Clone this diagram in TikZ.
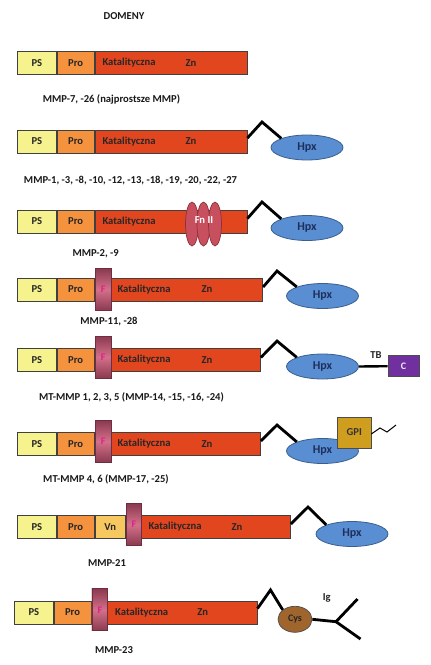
\documentclass[tikz,border=0pt]{standalone}
\usepackage{fontspec}
\setmainfont{Carlito}
\usetikzlibrary{shapes.geometric,calc}
\definecolor{cps}{HTML}{F6F28E}
\definecolor{cpro}{HTML}{F5923E}
\definecolor{ccat}{HTML}{E2461F}
\definecolor{chpx}{HTML}{5A8ED3}
\definecolor{chpxd}{HTML}{3A5F8E}
\definecolor{chpxt}{HTML}{1E2F5C}
\definecolor{cfn}{HTML}{C8505E}
\definecolor{cfnd}{HTML}{8E3140}
\definecolor{cfa}{HTML}{8A3A50}
\definecolor{cfb}{HTML}{D47089}
\definecolor{cft}{HTML}{E0208A}
\definecolor{cc}{HTML}{7030A0}
\definecolor{cgpi}{HTML}{CF9E1E}
\definecolor{ccys}{HTML}{A0652D}
\definecolor{cvn}{HTML}{F8C860}
\tikzset{
  txt/.style={font=\fontsize{10.6}{12}\selectfont\bfseries, text=black!85, inner sep=0pt},
  lbl/.style={font=\fontsize{10.6}{12}\selectfont\bfseries, text=black!90, inner sep=0pt},
  dom/.style={draw=black!75, line width=0.8pt, rectangle, inner sep=0pt, anchor=west, minimum height=23pt},
  fbox/.style={draw=cfa!80!black, line width=0.7pt, rectangle, inner sep=0pt, minimum width=15.7pt, minimum height=42pt, top color=cfa, bottom color=cfa, middle color=cfb, font=\fontsize{10}{11}\selectfont\bfseries, text=cft},
  hpx/.style={ellipse, draw=chpxd, line width=0.8pt, fill=chpx, inner sep=0pt, minimum width=72pt, minimum height=25pt, font=\fontsize{12}{13}\selectfont\bfseries, text=chpxt},
  fn/.style={ellipse, draw=cfnd, line width=0.7pt, fill=cfn, inner sep=0pt, minimum width=13pt, minimum height=44pt},
  link/.style={line width=2.8pt, black, line join=miter},
}
\begin{document}
\begin{tikzpicture}[x=1pt,y=-1pt]
\useasboundingbox[fill=white] (0,0) rectangle (431,665);
\node[lbl] (title) at (124,15.7) {DOMENY};
% Row 1
\node[dom, fill=cps, minimum width=38.4pt] (ps1) at (17.3,62.8) {};
\node[dom, fill=cpro, minimum width=37.6pt] (pro1) at (ps1.east) {};
\node[dom, fill=ccat, minimum width=151.7pt] (c1) at (pro1.east) {};
\node[txt] at (ps1.center) {PS};
\node[txt] at (pro1.center) {Pro};
\node[txt] at (129,62.8) {Katalityczna};
\node[txt] at (191,62.8) {Zn};
\node[lbl] (l1) at (111.5,99) {MMP-7, -26 (najprostsze MMP)};
% Row 2
\node[dom, fill=cps, minimum width=38.4pt] (ps2) at (17.3,141.5) {};
\node[dom, fill=cpro, minimum width=37.6pt] (pro2) at (ps2.east) {};
\node[dom, fill=ccat, minimum width=151.7pt] (c2) at (pro2.east) {};
\node[txt] at (ps2.center) {PS};
\node[txt] at (pro2.center) {Pro};
\node[txt] at (129,141.5) {Katalityczna};
\node[txt] at (191,141.5) {Zn};
\node[hpx] (h2) at (307,147.5) {Hpx};
\coordinate (p2) at (262,122);
\draw[link] ([yshift=3.5pt]c2.east) -- (p2) -- (h2.north west);
\node[lbl] (l2) at (130.5,181) {MMP-1, -3, -8, -10, -12, -13, -18, -19, -20, -22, -27};
% Row 3
\node[dom, fill=cps, minimum width=38.4pt] (ps3) at (17.3,221.5) {};
\node[dom, fill=cpro, minimum width=37.6pt] (pro3) at (ps3.east) {};
\node[dom, fill=ccat, minimum width=151.7pt] (c3) at (pro3.east) {};
\node[txt] at (ps3.center) {PS};
\node[txt] at (pro3.center) {Pro};
\node[txt] at (129,221.5) {Katalityczna};
\node[fn] (fa) at (192,224) {};
\node[fn] (fb) at (203.5,224) {};
\node[fn] (fc) at (215,224) {};
\node[txt, text=white] at (204,220) {Fn II};
\node[hpx] (h3) at (307,228) {Hpx};
\coordinate (p3) at (262,202);
\draw[link] ([yshift=3pt]c3.east) -- (p3) -- (h3.north west);
\node[lbl] (l3) at (95.7,254) {MMP-2, -9};
% Row 4
\node[dom, fill=cps, minimum width=38.4pt] (ps4) at (17.3,289.5) {};
\node[dom, fill=cpro, minimum width=37.6pt] (pro4) at (ps4.east) {};
\node[fbox, anchor=west] (f4) at (pro4.east) {F};
\node[dom, fill=ccat, minimum width=151pt] (c4) at (f4.east) {};
\node[fbox] at (f4.center) {F};
\node[txt] at (ps4.center) {PS};
\node[txt] at (pro4.center) {Pro};
\node[txt] at (144,289.5) {Katalityczna};
\node[txt] at (207,289.5) {Zn};
\node[hpx] (h4) at (322.5,296) {Hpx};
\coordinate (p4) at (277,271);
\draw[link] ([yshift=2.5pt]c4.east) -- (p4) -- (h4.north west);
\node[lbl] (l4) at (109,322) {MMP-11, -28};
% Row 5
\node[dom, fill=cps, minimum width=38.4pt] (ps5) at (17.3,360) {};
\node[dom, fill=cpro, minimum width=37.6pt] (pro5) at (ps5.east) {};
\node[fbox, anchor=west] (f5) at ([yshift=3pt]pro5.east) {F};
\node[dom, fill=ccat, minimum width=151pt] (c5) at (109,360) {};
\node[fbox] at (f5.center) {F};
\node[txt] at (ps5.center) {PS};
\node[txt] at (pro5.center) {Pro};
\node[txt] at (144,360) {Katalityczna};
\node[txt] at (207,360) {Zn};
\node[hpx] (h5) at (322.5,366.5) {Hpx};
\coordinate (p5) at (277,341);
\draw[link] ([yshift=2.5pt]c5.east) -- (p5) -- (h5.north west);
\node[draw=black!70, line width=0.7pt, fill=cc, minimum width=31pt, minimum height=21pt, inner sep=0pt, font=\fontsize{10}{11}\selectfont\bfseries, text=white!90!cc] (cb5) at (403.5,366.2) {C};
\draw[line width=2.4pt] (h5.east) -- (cb5.west);
\node[txt] (tb5) at (376,355) {TB};
\node[lbl] (l5) at (131.5,397) {MT-MMP 1, 2, 3, 5 (MMP-14, -15, -16, -24)};
% Row 6
\node[dom, fill=cps, minimum width=38.4pt] (ps6) at (17.3,444) {};
\node[dom, fill=cpro, minimum width=37.6pt] (pro6) at (ps6.east) {};
\node[fbox, anchor=west] (f6) at ([yshift=2.7pt]pro6.east) {F};
\node[dom, fill=ccat, minimum width=151pt] (c6) at (109,444) {};
\node[fbox] at (f6.center) {F};
\node[txt] at (ps6.center) {PS};
\node[txt] at (pro6.center) {Pro};
\node[txt] at (144,444) {Katalityczna};
\node[txt] at (207,444) {Zn};
\node[hpx] (h6) at (322.5,451) {Hpx};
\coordinate (p6) at (277,425);
\draw[link] ([yshift=3pt]c6.east) -- (p6) -- (h6.north west);
\node[draw=black!70, line width=0.7pt, fill=cgpi, minimum width=33.3pt, minimum height=31pt, inner sep=0pt, font=\fontsize{10.6}{12}\selectfont\bfseries, text=black!80] (gpi) at (354.3,432.5) {GPI};
\coordinate (s1) at (380,428);
\coordinate (s2) at (387,432);
\coordinate (s3) at (396,425);
\draw[line width=1pt] ([yshift=-1.5pt]gpi.east) -- (s1) -- (s2) -- (s3);
\node[lbl] (l6) at (106,479) {MT-MMP 4, 6 (MMP-17, -25)};
% Row 7
\node[dom, fill=cps, minimum width=38.4pt] (ps7) at (17.3,527) {};
\node[dom, fill=cpro, minimum width=37.6pt] (pro7) at (ps7.east) {};
\node[dom, fill=cvn, minimum width=30pt] (vn7) at (pro7.east) {};
\node[fbox, anchor=west] (f7) at ([yshift=2.5pt]vn7.east) {F};
\node[dom, fill=ccat, minimum width=151.3pt] (c7) at (138.7,527) {};
\node[fbox] at (f7.center) {F};
\node[txt] at (ps7.center) {PS};
\node[txt] at (pro7.center) {Pro};
\node[txt] at (vn7.center) {Vn};
\node[txt] at (175,527) {Katalityczna};
\node[txt] at (237,527) {Zn};
\node[hpx] (h7) at (352,534) {Hpx};
\coordinate (p7) at (308,507);
\draw[link] ([yshift=3pt]c7.east) -- (p7) -- (h7.north west);
\node[lbl] (l7) at (107,563) {MMP-21};
% Row 8
\node[dom, fill=cps, minimum width=38.4pt] (ps8) at (14.3,612.5) {};
\node[dom, fill=cpro, minimum width=37.3pt] (pro8) at (ps8.east) {};
\node[fbox, anchor=west] (f8) at ([yshift=2.7pt]pro8.east) {F};
\node[dom, fill=ccat, minimum width=151pt] (c8) at (105.7,612.5) {};
\node[fbox] at (f8.center) {F};
\node[txt] at (ps8.center) {PS};
\node[txt] at (pro8.center) {Pro};
\node[txt] at (141.7,612.5) {Katalityczna};
\node[txt] at (202.7,612.5) {Zn};
\coordinate (p8) at (270.5,590);
\node[ellipse, draw=black!70, line width=0.7pt, fill=ccys, minimum width=34pt, minimum height=26pt, inner sep=0pt, font=\fontsize{10}{11}\selectfont\bfseries, text=black!85] (cys) at (295,619.3) {Cys};
\draw[link] ([yshift=4pt]c8.east) -- (p8) -- (cys.north west);
\coordinate (j8) at (336,621.7);
\coordinate (ya) at (357.5,599);
\coordinate (yb) at (360.5,639);
\draw[link] (cys.east) -- (j8) -- (ya);
\draw[link] (j8) -- (yb);
\node[txt] (ig) at (326.7,597.7) {Ig};
\node[lbl] (l8) at (114,650) {MMP-23};
\end{tikzpicture}
\end{document}
